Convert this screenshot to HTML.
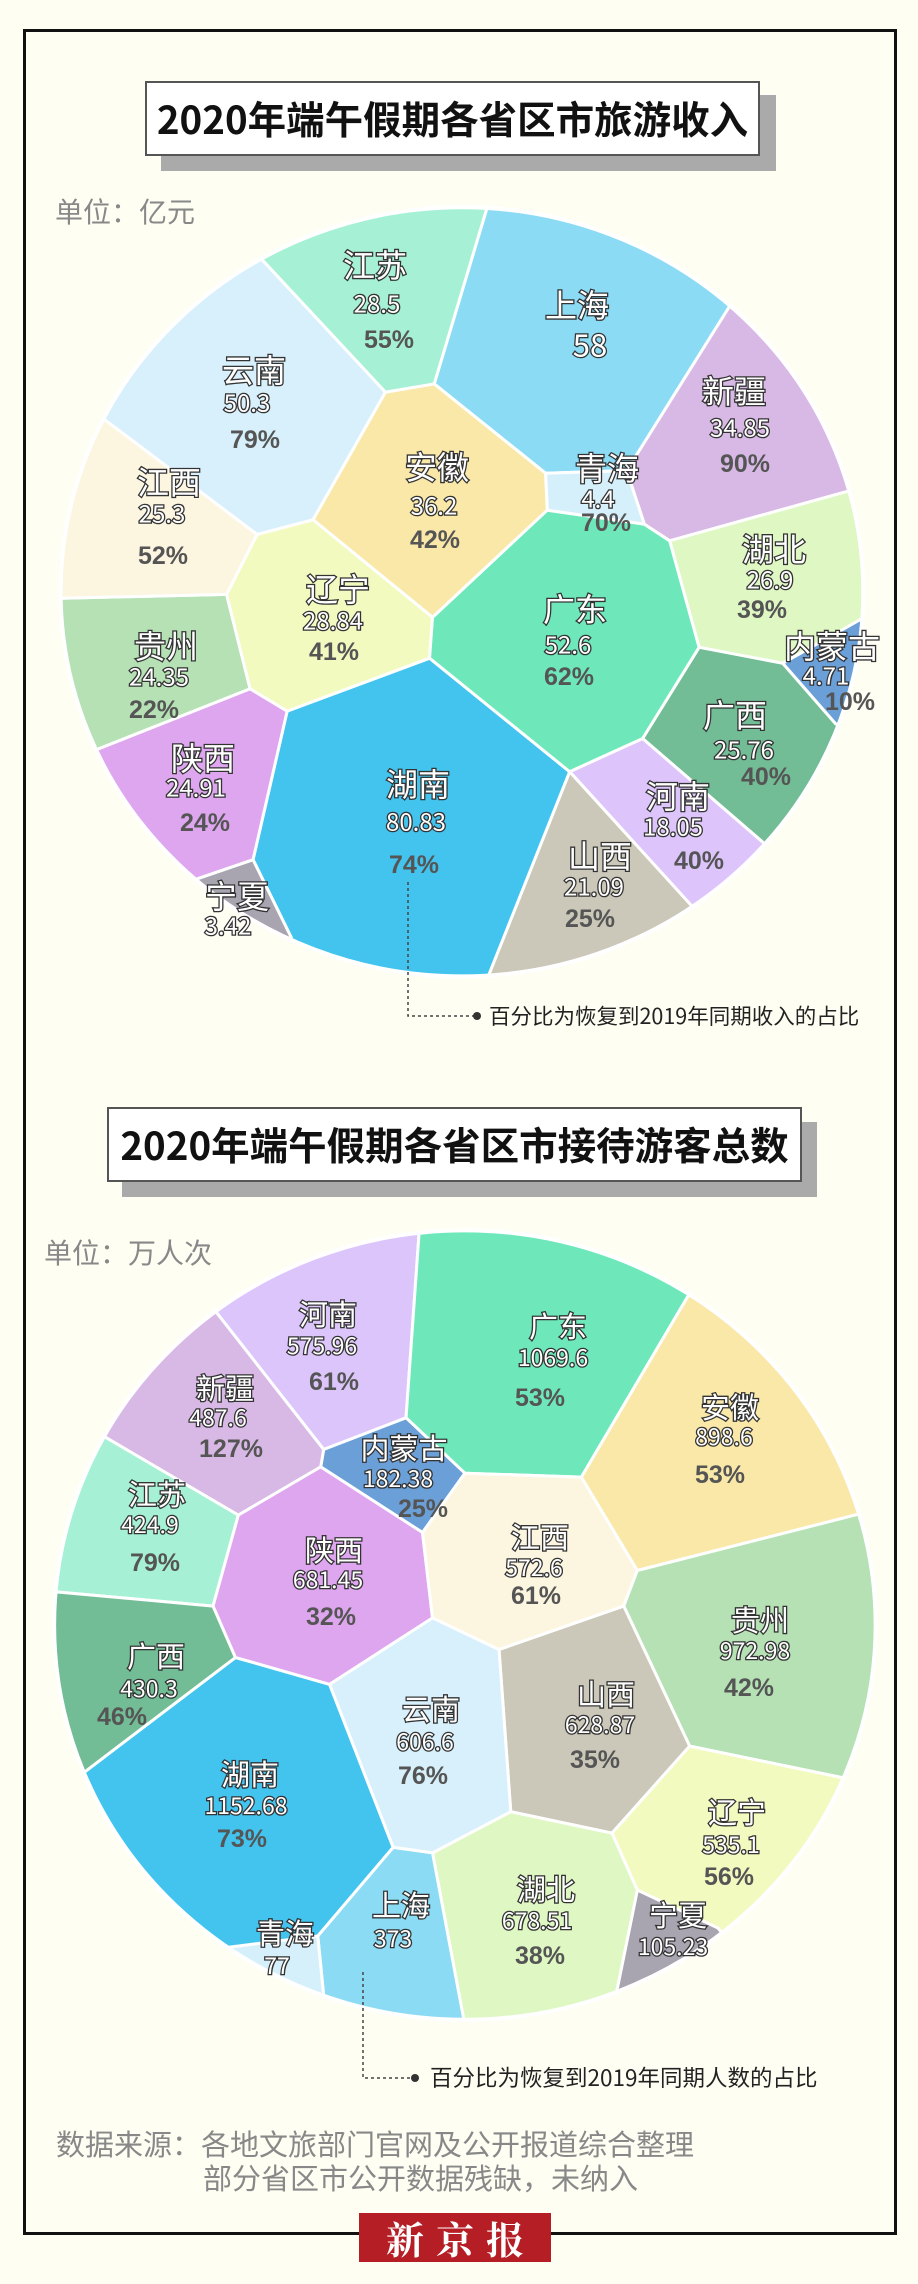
<!DOCTYPE html>
<html><head><meta charset="utf-8"><style>
html,body{margin:0;padding:0;background:#fefef3;}
#w{position:relative;width:918px;height:2284px;overflow:hidden;background:#fefef3;font-family:"Liberation Sans","Noto Sans CJK SC",sans-serif;}
svg{position:absolute;left:0;}
.frame{position:absolute;left:23px;top:29px;width:868px;height:2200px;border:3px solid #111;}
.tb{position:absolute;background:#fff;border:2px solid #555;box-sizing:border-box;font-weight:bold;color:#111;font-size:38.5px;text-align:center;font-family:"Noto Sans CJK SC",sans-serif;white-space:nowrap;}
.sh{position:absolute;background:#aaa;}
.unit{position:absolute;color:#888;font-size:28px;font-family:"Noto Sans CJK SC",sans-serif;}
.note{position:absolute;color:#222;font-size:21.5px;font-family:"Noto Sans CJK SC",sans-serif;white-space:nowrap;}
.src{position:absolute;color:#888;font-size:29px;font-family:"Noto Sans CJK SC",sans-serif;white-space:nowrap;}
.logo{position:absolute;left:359px;top:2213px;width:192px;height:49px;background:#b41e24;color:#fff;font-family:"Noto Serif CJK SC",serif;font-weight:bold;font-size:38px;line-height:49px;text-align:center;letter-spacing:12px;text-indent:12px;}
.n{fill:#fff;stroke:#333;stroke-width:2.6px;paint-order:stroke fill;font-family:"Noto Sans CJK SC",sans-serif;text-anchor:middle;dominant-baseline:central;}
.p{fill:#555;font-weight:bold;font-family:"Liberation Sans",sans-serif;text-anchor:middle;dominant-baseline:central;}
</style></head><body><div id="w">
<div class="frame"></div>

<div class="sh" style="left:161px;top:95px;width:615px;height:76px"></div>
<div class="tb" style="left:145px;top:81px;width:615px;height:75px;line-height:71px">2020年端午假期各省区市旅游收入</div>
<div class="unit" style="left:55px;top:191px">单位：亿元</div>

<svg width="918" height="1000" viewBox="0 0 1560 1568" preserveAspectRatio="none" style="top:0">
<defs><clipPath id="c1"><ellipse cx="785" cy="928" rx="682" ry="603"/></clipPath></defs>
<g clip-path="url(#c1)" stroke="#fff" stroke-width="3" stroke-linejoin="round">
<polygon vector-effect="non-scaling-stroke" fill="#a6f1d6" points="655,615 445,407 309,199 845,84 828,325 738,602"/>
<polygon vector-effect="non-scaling-stroke" fill="#8cdbf5" points="738,602 828,325 845,84 1422,301 1240,480 1065,738 927,742"/>
<polygon vector-effect="non-scaling-stroke" fill="#d8b9e5" points="1065,738 1240,480 1422,301 1705,707 1442,770 1138,848 1095,822"/>
<polygon vector-effect="non-scaling-stroke" fill="#d6f0fb" points="927,742 1065,738 1095,822 930,800"/>
<polygon vector-effect="non-scaling-stroke" fill="#dff7c3" points="1138,848 1442,770 1705,707 1737,987 1465,970 1330,1040 1188,1015"/>
<polygon vector-effect="non-scaling-stroke" fill="#6a9fd8" points="1330,1040 1465,970 1737,987 1674,1218 1420,1135"/>
<polygon vector-effect="non-scaling-stroke" fill="#72bc96" points="1188,1015 1330,1040 1420,1135 1674,1218 1503,1480 1298,1322 1092,1158"/>
<polygon vector-effect="non-scaling-stroke" fill="#ddc5fb" points="1092,1158 1298,1322 1503,1480 1331,1617 1175,1420 968,1210"/>
<polygon vector-effect="non-scaling-stroke" fill="#cbc8b9" points="968,1210 1175,1420 1331,1617 848,1771 830,1530"/>
<polygon vector-effect="non-scaling-stroke" fill="#42c4ef" points="730,1032 968,1210 830,1530 848,1771 379,1687 495,1470 430,1348 488,1115"/>
<polygon vector-effect="non-scaling-stroke" fill="#a8a5b1" points="430,1348 495,1470 379,1687 155,1558 335,1378"/>
<polygon vector-effect="non-scaling-stroke" fill="#dea6ef" points="488,1115 430,1348 335,1378 155,1558 -83,1274 165,1175 425,1080"/>
<polygon vector-effect="non-scaling-stroke" fill="#b5e1b5" points="425,1080 165,1175 -83,1274 -167,942 105,938 385,932"/>
<polygon vector-effect="non-scaling-stroke" fill="#fcf6e0" points="385,932 105,938 -167,942 -65,550 178,658 437,838"/>
<polygon vector-effect="non-scaling-stroke" fill="#d7f0fb" points="437,838 178,658 -65,550 309,199 445,407 655,615 532,815"/>
<polygon vector-effect="non-scaling-stroke" fill="#f9e8a8" points="655,615 738,602 927,742 930,800 735,968 532,815"/>
<polygon vector-effect="non-scaling-stroke" fill="#f3fac0" points="532,815 735,968 730,1032 488,1115 425,1080 385,932 437,838"/>
<polygon vector-effect="non-scaling-stroke" fill="#6ee8bb" points="930,800 1095,822 1138,848 1188,1015 1092,1158 968,1210 730,1032 735,968"/>
</g>
<ellipse cx="785" cy="928" rx="682" ry="603" fill="none" stroke="#fff" stroke-width="4" vector-effect="non-scaling-stroke"/>
</svg>

<svg width="918" height="1050" style="top:0">
<g font-size="32">
<text class="n" x="375" y="264">江苏</text><text class="n" x="577" y="304">上海</text>
<text class="n" x="734" y="390">新疆</text><text class="n" x="254" y="369">云南</text>
<text class="n" x="437" y="466">安徽</text><text class="n" x="607" y="467">青海</text>
<text class="n" x="169" y="481">江西</text><text class="n" x="338" y="588">辽宁</text>
<text class="n" x="575" y="608">广东</text><text class="n" x="774" y="548">湖北</text>
<text class="n" x="832" y="645">内蒙古</text><text class="n" x="166" y="645">贵州</text>
<text class="n" x="735" y="714">广西</text><text class="n" x="203" y="757">陕西</text>
<text class="n" x="418" y="783">湖南</text><text class="n" x="678" y="795">河南</text>
<text class="n" x="600" y="855">山西</text><text class="n" x="237" y="895">宁夏</text>
</g>
<g font-size="24" style="font-family:'Liberation Sans',sans-serif">
<text class="n" x="377" y="302">28.5</text><text class="n" x="590" y="343" font-size="31">58</text>
<text class="n" x="740" y="426">34.85</text><text class="n" x="247" y="401">50.3</text>
<text class="n" x="434" y="504">36.2</text><text class="n" x="598" y="497">4.4</text>
<text class="n" x="162" y="512">25.3</text><text class="n" x="333" y="619">28.84</text>
<text class="n" x="568" y="643">52.6</text><text class="n" x="770" y="578">26.9</text>
<text class="n" x="826" y="674">4.71</text><text class="n" x="159" y="675">24.35</text>
<text class="n" x="744" y="748">25.76</text><text class="n" x="196" y="786">24.91</text>
<text class="n" x="416" y="820">80.83</text><text class="n" x="673" y="825">18.05</text>
<text class="n" x="594" y="885">21.09</text><text class="n" x="228" y="924">3.42</text>
</g>
<g font-size="25">
<text class="p" x="389" y="340">55%</text><text class="p" x="745" y="464">90%</text>
<text class="p" x="255" y="440">79%</text><text class="p" x="435" y="540">42%</text>
<text class="p" x="606" y="523">70%</text><text class="p" x="163" y="556">52%</text>
<text class="p" x="334" y="652">41%</text><text class="p" x="569" y="677">62%</text>
<text class="p" x="762" y="610">39%</text><text class="p" x="850" y="702">10%</text>
<text class="p" x="154" y="710">22%</text><text class="p" x="766" y="777">40%</text>
<text class="p" x="205" y="823">24%</text><text class="p" x="414" y="865">74%</text>
<text class="p" x="699" y="861">40%</text><text class="p" x="590" y="919">25%</text>
</g>
<polyline points="408,882 408,1016 474,1016" fill="none" stroke="#444" stroke-width="1.5" stroke-dasharray="3,3"/>
<circle cx="477" cy="1016" r="4" fill="#333"/>
</svg>
<div class="note" style="left:489px;top:1000px">百分比为恢复到2019年同期收入的占比</div>

<div class="sh" style="left:122px;top:1122px;width:695px;height:75px"></div>
<div class="tb" style="left:107px;top:1107px;width:695px;height:75px;line-height:71px">2020年端午假期各省区市接待游客总数</div>
<div class="unit" style="left:44px;top:1232px">单位：万人次</div>

<svg width="918" height="1234" viewBox="0 0 1560 1560" preserveAspectRatio="none" style="top:1050px">
<defs><clipPath id="c2"><ellipse cx="790" cy="727" rx="698" ry="499"/></clipPath></defs>
<g clip-path="url(#c2)" stroke="#fff" stroke-width="3" stroke-linejoin="round">
<polygon vector-effect="non-scaling-stroke" fill="#dcc5fb" points="550,505 368,332 199,174 681,35 712,233 690,465"/>
<polygon vector-effect="non-scaling-stroke" fill="#6ee8bb" points="690,465 712,233 681,35 1322,143 1170,310 988,540 790,535"/>
<polygon vector-effect="non-scaling-stroke" fill="#6a9fd8" points="550,505 690,465 790,535 718,610 545,527"/>
<polygon vector-effect="non-scaling-stroke" fill="#d8b9e5" points="405,588 180,490 -64,395 199,174 368,332 550,505 545,527"/>
<polygon vector-effect="non-scaling-stroke" fill="#a6f1d6" points="362,703 95,685 -183,668 -64,395 180,490 405,588"/>
<polygon vector-effect="non-scaling-stroke" fill="#dea6ef" points="545,527 718,610 735,718 560,802 400,768 362,703 405,588"/>
<polygon vector-effect="non-scaling-stroke" fill="#fcf6e0" points="790,535 988,540 1083,658 1060,703 848,758 735,718 718,610"/>
<polygon vector-effect="non-scaling-stroke" fill="#f9e8a8" points="988,540 1170,310 1322,143 1725,531 1458,587 1083,658"/>
<polygon vector-effect="non-scaling-stroke" fill="#b5e1b5" points="1083,658 1458,587 1725,531 1689,997 1432,920 1172,880 1060,703"/>
<polygon vector-effect="non-scaling-stroke" fill="#cbc8b9" points="848,758 1060,703 1172,880 1040,990 868,963"/>
<polygon vector-effect="non-scaling-stroke" fill="#d7f0fb" points="560,802 735,718 848,758 868,963 735,1015 668,1008"/>
<polygon vector-effect="non-scaling-stroke" fill="#f3fac0" points="1172,880 1432,920 1689,997 1392,1263 1220,1110 1083,1062 1040,990"/>
<polygon vector-effect="non-scaling-stroke" fill="#a8a5b1" points="1083,1062 1220,1110 1392,1263 1151,1375 1048,1190"/>
<polygon vector-effect="non-scaling-stroke" fill="#dff7c3" points="735,1015 868,963 1040,990 1083,1062 1048,1190 1151,1375 787,1424 788,1225"/>
<polygon vector-effect="non-scaling-stroke" fill="#8cdbf5" points="668,1008 735,1015 788,1225 787,1424 454,1382 550,1195 540,1120"/>
<polygon vector-effect="non-scaling-stroke" fill="#d6f0fb" points="540,1120 550,1195 454,1382 216,1298 380,1135"/>
<polygon vector-effect="non-scaling-stroke" fill="#42c4ef" points="400,768 560,802 668,1008 540,1120 380,1135 216,1298 -113,986 145,912"/>
<polygon vector-effect="non-scaling-stroke" fill="#72bc96" points="362,703 400,768 145,912 -113,986 -183,668 95,685"/>
</g>
<ellipse cx="790" cy="727" rx="698" ry="499" fill="none" stroke="#fff" stroke-width="4" vector-effect="non-scaling-stroke"/>
</svg>

<svg width="918" height="2284" style="top:0">
<g font-size="29">
<text class="n" x="328" y="1313">河南</text><text class="n" x="558" y="1325">广东</text>
<text class="n" x="225" y="1387">新疆</text><text class="n" x="404" y="1447">内蒙古</text>
<text class="n" x="730" y="1406">安徽</text><text class="n" x="157" y="1493">江苏</text>
<text class="n" x="334" y="1549">陕西</text><text class="n" x="540" y="1536">江西</text>
<text class="n" x="760" y="1619">贵州</text><text class="n" x="156" y="1655">广西</text>
<text class="n" x="431" y="1708">云南</text><text class="n" x="606" y="1693">山西</text>
<text class="n" x="250" y="1773">湖南</text><text class="n" x="737" y="1811">辽宁</text>
<text class="n" x="546" y="1888">湖北</text><text class="n" x="678" y="1914">宁夏</text>
<text class="n" x="401" y="1904">上海</text><text class="n" x="285" y="1932">青海</text>
</g>
<g font-size="23" style="font-family:'Liberation Sans',sans-serif">
<text class="n" x="322" y="1344">575.96</text><text class="n" x="553" y="1356">1069.6</text>
<text class="n" x="218" y="1416">487.6</text><text class="n" x="398" y="1477">182.38</text>
<text class="n" x="724" y="1435">898.6</text><text class="n" x="150" y="1523">424.9</text>
<text class="n" x="328" y="1578">681.45</text><text class="n" x="534" y="1566">572.6</text>
<text class="n" x="755" y="1649">972.98</text><text class="n" x="149" y="1687">430.3</text>
<text class="n" x="425" y="1740">606.6</text><text class="n" x="600" y="1723">628.87</text>
<text class="n" x="246" y="1804">1152.68</text><text class="n" x="731" y="1843">535.1</text>
<text class="n" x="537" y="1919">678.51</text><text class="n" x="673" y="1945">105.23</text>
<text class="n" x="393" y="1937">373</text><text class="n" x="277" y="1964">77</text>
</g>
<g font-size="25">
<text class="p" x="334" y="1382">61%</text><text class="p" x="540" y="1398">53%</text>
<text class="p" x="231" y="1449">127%</text><text class="p" x="423" y="1509">25%</text>
<text class="p" x="720" y="1475">53%</text><text class="p" x="155" y="1563">79%</text>
<text class="p" x="331" y="1617">32%</text><text class="p" x="536" y="1596">61%</text>
<text class="p" x="749" y="1688">42%</text><text class="p" x="122" y="1717">46%</text>
<text class="p" x="423" y="1776">76%</text><text class="p" x="595" y="1760">35%</text>
<text class="p" x="242" y="1839">73%</text><text class="p" x="729" y="1877">56%</text>
<text class="p" x="540" y="1956">38%</text>
</g>
<polyline points="363,1972 363,2078 412,2078" fill="none" stroke="#444" stroke-width="1.5" stroke-dasharray="3,3"/>
<circle cx="415" cy="2078" r="4" fill="#333"/>
</svg>
<div class="note" style="left:430px;top:2061px;font-size:22.5px">百分比为恢复到2019年同期人数的占比</div>

<div class="src" style="left:56px;top:2122px">数据来源：各地文旅部门官网及公开报道综合整理</div>
<div class="src" style="left:203px;top:2156px">部分省区市公开数据残缺，未纳入</div>

<div class="logo">新京报</div>
</div></body></html>
